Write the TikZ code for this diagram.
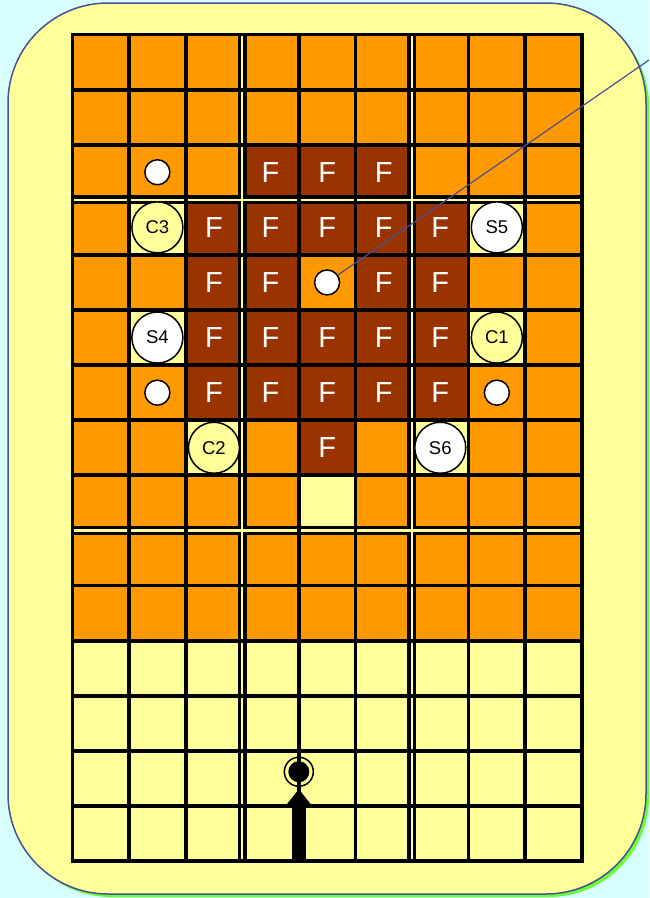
\documentclass[tikz,border=0pt]{standalone}
\usepackage{fontspec}
\setmainfont{Liberation Sans}
\usetikzlibrary{arrows.meta}

\definecolor{sky}{HTML}{D8FFFF}
\definecolor{pad}{HTML}{FFFF99}
\definecolor{rim}{HTML}{4B4F96}
\definecolor{glow}{HTML}{66FF33}
\definecolor{sand}{HTML}{FF9900}
\definecolor{rust}{HTML}{993300}

\tikzset{
  hole/.style={circle,draw,line width=1.5pt,fill=white,inner sep=0pt,minimum size=25pt},
  probe/.style={circle,draw,line width=1.5pt,inner sep=0pt,minimum size=51pt,
    font=\fontsize{18.5}{18.5}\selectfont},
  fuel/.style={text=white,inner sep=0pt,font=\fontsize{29}{29}\selectfont},
}

\begin{document}
\begin{tikzpicture}[x=1pt,y=-1pt]
\useasboundingbox (0,0) rectangle (649,898);
\fill[sky] (0,0) rectangle (649,898);
\fill[glow,rounded corners=100pt] (11,6) rectangle (649,897);
\draw[rim,line width=1.5pt,fill=pad,rounded corners=100pt] (8,3) rectangle (646,894);

\begin{scope}[shift={(72.5,34.5)},x=56.58pt,y=-55.1pt]
% cells
\fill[sand] (0,0) rectangle (9,11);
\fill[pad] (0,11) rectangle (9,15);
\foreach \r/\c in {2/3,2/4,2/5,3/2,3/3,3/4,3/5,3/6,4/2,4/3,4/5,4/6,
  5/2,5/3,5/4,5/5,5/6,6/2,6/3,6/4,6/5,6/6,7/4} {
  \fill[rust] (\c,\r) rectangle ++(1,1);
  \node[fuel] (f\r\c) at (\c+.5,\r+.5) {F};
}
\foreach \r/\c in {3/1,3/7,5/1,5/7,7/2,7/6,8/4}
  \fill[pad] (\c,\r) rectangle ++(1,1);

% grid
\foreach \c in {3,6} \draw[line width=9pt] (\c,0) -- (\c,15);
\foreach \r in {3,9} \draw[line width=9pt] (0,\r) -- (9,\r);
\foreach \c in {3,6} \draw[pad,line width=2.5pt] (\c,0) -- (\c,15);
\foreach \r in {3,9} \draw[pad,line width=2.5pt] (0,\r) -- (9,\r);
\foreach \c in {1,2,4,5,7,8} \draw[line width=3.8pt] (\c,0) -- (\c,15);
\foreach \r in {1,2,4,5,6,7,8,10,11,12,13,14} \draw[line width=3.8pt] (0,\r) -- (9,\r);
\draw[line width=3.8pt] (0,0) rectangle (9,15);

% probes and holes
\node[probe,fill=pad] (c3) at (1.5,3.5) {C3};
\node[probe,fill=white] (s5) at (7.5,3.5) {S5};
\node[probe,fill=white] (s4) at (1.5,5.5) {S4};
\node[probe,fill=pad] (c1) at (7.5,5.5) {C1};
\node[probe,fill=pad] (c2) at (2.5,7.5) {C2};
\node[probe,fill=white] (s6) at (6.5,7.5) {S6};
\node[hole] (h1) at (1.5,2.5) {};
\node[hole] (core) at (4.5,4.5) {};
\node[hole] (h2) at (1.5,6.5) {};
\node[hole] (h3) at (7.5,6.5) {};

% start point
\node[circle,draw,line width=1.5pt,inner sep=0pt,minimum size=29pt] (start) at (4,13.38) {};
\node[circle,fill,inner sep=0pt,minimum size=21pt] (dot) at (start) {};
\coordinate (entry) at (4,15);
\draw[line width=14pt,-{Triangle[width=24pt,length=16pt]}] (entry) -- ([yshift=-2pt]start.south);
\end{scope}

\coordinate (exit) at (649,60);
\draw[rim,line width=1.2pt] (core) -- (exit);
\end{tikzpicture}
\end{document}
